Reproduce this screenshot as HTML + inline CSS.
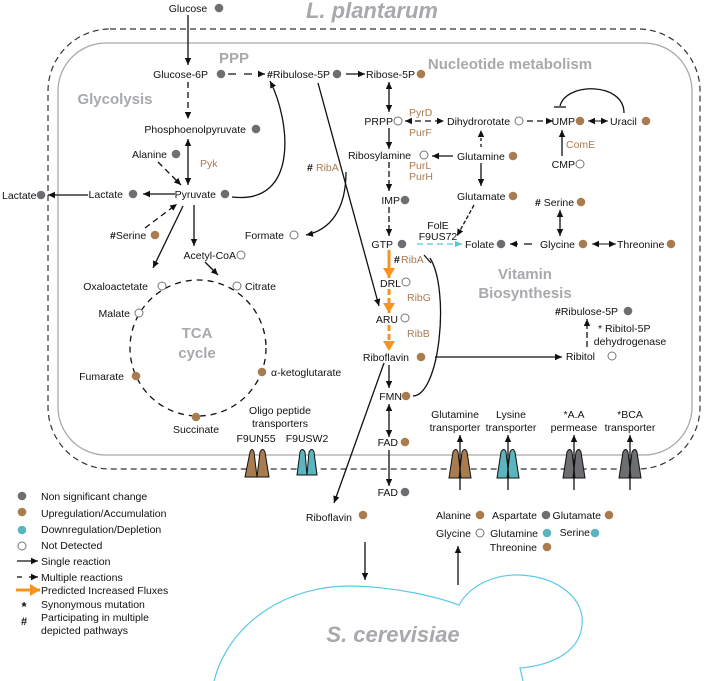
<!DOCTYPE html>
<html><head><meta charset="utf-8"><style>
html,body{margin:0;padding:0;background:#fff;}
svg{display:block;font-family:"Liberation Sans",Arial,sans-serif;}
.t{font-size:10.5px;fill:#111;}
.b{font-size:10.5px;fill:#a97c50;}
.h{font-size:15px;font-weight:bold;fill:#a7a9ac;}
</style></head><body>
<svg width="704" height="681" viewBox="0 0 704 681" xmlns="http://www.w3.org/2000/svg">
<defs>
<marker id="a" markerWidth="8" markerHeight="8" refX="7" refY="4" orient="auto" markerUnits="userSpaceOnUse"><path d="M0,0.8 L7,4 L0,7.2z" fill="#111"/></marker>
<marker id="as" markerWidth="8" markerHeight="8" refX="1" refY="4" orient="auto" markerUnits="userSpaceOnUse"><path d="M8,0.8 L1,4 L8,7.2z" fill="#111"/></marker>
<marker id="ac" markerWidth="8" markerHeight="8" refX="7" refY="4" orient="auto" markerUnits="userSpaceOnUse"><path d="M0,0.8 L7,4 L0,7.2z" fill="#5bc8d6"/></marker>
<marker id="ao" markerWidth="12" markerHeight="12" refX="10" refY="6" orient="auto" markerUnits="userSpaceOnUse"><path d="M0,0 L10,6 L0,12z" fill="#f7941d"/></marker>
</defs>
<rect x="48" y="29" width="652" height="440" rx="62" fill="none" stroke="#333" stroke-width="1.2" stroke-dasharray="6,4"/>
<rect x="58" y="43" width="634" height="412" rx="48" fill="none" stroke="#a7a9ac" stroke-width="1.3"/>
<text x="372" y="18" text-anchor="middle" font-size="22" font-weight="bold" font-style="italic" fill="#a7a9ac">L. plantarum</text>
<text x="234" y="63" text-anchor="middle" class="h">PPP</text>
<text x="115" y="104" text-anchor="middle" class="h">Glycolysis</text>
<text x="510" y="69" text-anchor="middle" class="h">Nucleotide metabolism</text>
<text x="197" y="338" text-anchor="middle" class="h">TCA</text>
<text x="197" y="358" text-anchor="middle" class="h">cycle</text>
<text x="525" y="279" text-anchor="middle" class="h">Vitamin</text>
<text x="525" y="298" text-anchor="middle" class="h">Biosynthesis</text>

<g fill="none" stroke="#111" stroke-width="1.3">
<line x1="188" y1="15" x2="188" y2="65" marker-end="url(#a)"/>
<line x1="188" y1="82" x2="188" y2="119" stroke-dasharray="6,4" marker-end="url(#a)"/>
<line x1="228" y1="74" x2="265" y2="74" stroke-dasharray="8,8" marker-end="url(#a)"/>
<line x1="346" y1="74" x2="365" y2="74" marker-end="url(#a)"/>
<line x1="188" y1="139" x2="188" y2="185" marker-start="url(#as)" marker-end="url(#a)"/>
<line x1="158" y1="162" x2="181" y2="185" stroke-dasharray="6,4" marker-end="url(#a)"/>
<line x1="145" y1="228" x2="177" y2="204" stroke-dasharray="6,4" marker-end="url(#a)"/>
<line x1="175" y1="194" x2="143" y2="194" marker-end="url(#a)"/>
<line x1="88" y1="195" x2="48" y2="195" marker-end="url(#a)"/>
<line x1="183" y1="206" x2="153" y2="268" marker-end="url(#a)"/>
<line x1="194" y1="205" x2="194" y2="246" marker-end="url(#a)"/>
<line x1="205" y1="262" x2="218" y2="275" marker-end="url(#a)"/>
<path d="M232,197 C 300,205 290,120 270,81" marker-end="url(#a)"/>
<path d="M346,172 C 346,210 330,230 306,235" marker-end="url(#a)"/>
<line x1="318" y1="83" x2="379" y2="306" marker-end="url(#a)"/>
<line x1="384" y1="363" x2="334" y2="503" marker-end="url(#a)"/>
<circle cx="198" cy="348" r="68" stroke-dasharray="6,5"/>
<line x1="389" y1="82" x2="389" y2="112" marker-start="url(#as)" marker-end="url(#a)"/>
<line x1="405" y1="121" x2="444" y2="121" stroke-dasharray="6,4" marker-start="url(#as)" marker-end="url(#a)"/>
<line x1="527" y1="121" x2="553" y2="121" stroke-dasharray="6,4" marker-end="url(#a)"/>
<line x1="588" y1="121" x2="608" y2="121" stroke-width="1" marker-start="url(#as)" marker-end="url(#a)"/>
<path d="M624,113 C 624,82 566,82 560,106"/>
<line x1="554" y1="107" x2="566" y2="107"/>
<line x1="562" y1="156" x2="562" y2="130" marker-end="url(#a)"/>
<line x1="389" y1="128" x2="389" y2="149" marker-end="url(#a)"/>
<line x1="389" y1="162" x2="389" y2="191" stroke-dasharray="6,3" marker-end="url(#a)"/>
<line x1="389" y1="207" x2="389" y2="236" stroke-dasharray="6,3" marker-end="url(#a)"/>
<line x1="453" y1="156" x2="432" y2="156" marker-end="url(#a)"/>
<line x1="481" y1="147" x2="481" y2="130" stroke-dasharray="3,3" marker-end="url(#a)"/>
<line x1="481" y1="163" x2="481" y2="186" marker-end="url(#a)"/>
<line x1="474" y1="205" x2="457" y2="236" stroke-dasharray="4,2" marker-end="url(#a)"/>
<line x1="532" y1="244" x2="510" y2="244" stroke-dasharray="8,6" marker-end="url(#a)"/>
<line x1="592" y1="244" x2="616" y2="244" stroke-width="1" marker-start="url(#as)" marker-end="url(#a)"/>
<line x1="560" y1="210" x2="560" y2="236" marker-start="url(#as)" marker-end="url(#a)"/>
<path d="M413,396 C 440,395 450,290 430,258"/>
<line x1="424" y1="255" x2="431" y2="263"/>
<line x1="435" y1="357" x2="562" y2="357" marker-end="url(#a)"/>
<line x1="587" y1="347" x2="587" y2="319" stroke-dasharray="6,3" marker-end="url(#a)"/>
<line x1="389" y1="365" x2="389" y2="388" marker-end="url(#a)"/>
<line x1="389" y1="404" x2="389" y2="437" marker-start="url(#as)" marker-end="url(#a)"/>
<line x1="389" y1="450" x2="389" y2="486" marker-end="url(#a)"/>
<line x1="365" y1="542" x2="365" y2="580" marker-end="url(#a)"/>
<line x1="458" y1="585" x2="458" y2="546" marker-end="url(#a)"/>
<line x1="17" y1="561" x2="38" y2="561" marker-end="url(#a)"/>
<line x1="17" y1="577" x2="22" y2="577"/><line x1="29" y1="577" x2="38" y2="577" marker-end="url(#a)"/>
</g>
<line x1="417" y1="244" x2="462" y2="244" stroke="#5bc8d6" stroke-width="1.2" stroke-dasharray="6,4" marker-end="url(#ac)"/>
<g stroke="#f7941d" stroke-width="3" fill="none">
<line x1="389" y1="250" x2="389" y2="278" marker-end="url(#ao)"/>
<line x1="389" y1="289" x2="389" y2="313" stroke-dasharray="6,3" marker-end="url(#ao)"/>
<line x1="389" y1="325" x2="389" y2="351" stroke-dasharray="6,3" marker-end="url(#ao)"/>
<line x1="16" y1="590" x2="40" y2="590" marker-end="url(#ao)"/>
</g>
<g stroke="#111" stroke-width="1">
<path d="M245,477 L250,452 Q252,447 254,452 L257,477Z M257,477 L260,452 Q263,447 265,452 L269,477Z" fill="#a97c50"/>
<path d="M297,475 L300,452 Q302,447 305,452 L307,475Z M307,475 L309,452 Q312,447 314,452 L317,475Z" fill="#5bb5be"/>
<path d="M449,478 L453,452 Q456,447 458,452 L461,478Z M459,478 L462,452 Q465,447 467,452 L471,478Z" fill="#a97c50"/>
<path d="M497,478 L501,452 Q504,447 506,452 L509,478Z M507,478 L510,452 Q513,447 515,452 L519,478Z" fill="#5bb5be"/>
<path d="M563,478 L567,452 Q570,447 572,452 L575,478Z M573,478 L576,452 Q579,447 581,452 L585,478Z" fill="#6d6e71"/>
<path d="M619,478 L623,452 Q626,447 628,452 L631,478Z M629,478 L632,452 Q635,447 637,452 L641,478Z" fill="#6d6e71"/>
</g>
<g fill="none" stroke="#111" stroke-width="1.3">
<line x1="460" y1="490" x2="460" y2="435" marker-end="url(#a)"/>
<line x1="508" y1="490" x2="508" y2="435" marker-end="url(#a)"/>
<line x1="574" y1="490" x2="574" y2="435" marker-end="url(#a)"/>
<line x1="630" y1="490" x2="630" y2="435" marker-end="url(#a)"/>
</g>
<path d="M214,681 C 230,620 290,585 352,586 C 400,587 440,598 459,605 C 470,585 495,574 520,575 C 560,577 585,600 582,625 C 580,650 555,665 520,668 L 523,681" fill="none" stroke="#5bc8e8" stroke-width="1.2"/>
<text x="393" y="642" text-anchor="middle" font-size="22" font-weight="bold" font-style="italic" fill="#a7a9ac">S. cerevisiae</text>

<g class="t">
<text x="188" y="12" text-anchor="middle" class="t">Glucose</text>
<text x="208" y="78" text-anchor="end" class="t">Glucose-6P</text>
<text x="267" y="78" class="t"><tspan font-weight="bold">#</tspan>Ribulose-5P</text>
<text x="366" y="78" class="t">Ribose-5P</text>
<text x="246" y="133" text-anchor="end" class="t">Phosphoenolpyruvate</text>
<text x="167" y="158" text-anchor="end" class="t">Alanine</text>
<text x="216" y="198" text-anchor="end" class="t">Pyruvate</text>
<text x="123" y="198" text-anchor="end" class="t">Lactate</text>
<text x="2" y="199" class="t">Lactate</text>
<text x="110" y="239" class="t"><tspan font-weight="bold">#</tspan>Serine</text>
<text x="236" y="259" text-anchor="end" class="t">Acetyl-CoA</text>
<text x="148" y="290" text-anchor="end" class="t">Oxaloactetate</text>
<text x="245" y="290" class="t">Citrate</text>
<text x="130" y="317" text-anchor="end" class="t">Malate</text>
<text x="124" y="380" text-anchor="end" class="t">Fumarate</text>
<text x="271" y="376" class="t">α-ketoglutarate</text>
<text x="196" y="433" text-anchor="middle" class="t">Succinate</text>
<text x="280" y="414" text-anchor="middle" class="t">Oligo peptide</text>
<text x="280" y="427" text-anchor="middle" class="t">transporters</text>
<text x="256" y="442" text-anchor="middle" class="t">F9UN55</text>
<text x="307" y="442" text-anchor="middle" class="t">F9USW2</text>
<text x="307" y="171" class="t" font-weight="bold">#</text>
<text x="284" y="239" text-anchor="end" class="t">Formate</text>
<text x="393" y="125" text-anchor="end" class="t">PRPP</text>
<text x="447" y="125" class="t">Dihydrorotate</text>
<text x="575" y="125" text-anchor="end" class="t">UMP</text>
<text x="610" y="125" class="t">Uracil</text>
<text x="575" y="168" text-anchor="end" class="t">CMP</text>
<text x="411" y="159" text-anchor="end" class="t">Ribosylamine</text>
<text x="457" y="160" class="t">Glutamine</text>
<text x="400" y="204" text-anchor="end" class="t">IMP</text>
<text x="457" y="200" class="t">Glutamate</text>
<text x="438" y="229" text-anchor="middle" class="t">FolE</text>
<text x="438" y="240" text-anchor="middle" class="t">F9US72</text>
<text x="393" y="248" text-anchor="end" class="t">GTP</text>
<text x="465" y="248" class="t">Folate</text>
<text x="540" y="248" class="t">Glycine</text>
<text x="617" y="248" class="t">Threonine</text>
<text x="535" y="206" class="t"><tspan font-weight="bold">#</tspan> Serine</text>
<text x="394" y="263" class="t" font-weight="bold">#</text>
<text x="401" y="287" text-anchor="end" class="t">DRL</text>
<text x="398" y="323" text-anchor="end" class="t">ARU</text>
<text x="409" y="361" text-anchor="end" class="t">Riboflavin</text>
<text x="595" y="360" text-anchor="end" class="t">Ribitol</text>
<text x="555" y="315" class="t"><tspan font-weight="bold">#</tspan>Ribulose-5P</text>
<text x="598" y="332" class="t">* Ribitol-5P</text>
<text x="630" y="345" text-anchor="middle" class="t">dehydrogenase</text>
<text x="402" y="400" text-anchor="end" class="t">FMN</text>
<text x="398" y="446" text-anchor="end" class="t">FAD</text>
<text x="398" y="496" text-anchor="end" class="t">FAD</text>
<text x="455" y="418" text-anchor="middle" class="t">Glutamine</text>
<text x="455" y="431" text-anchor="middle" class="t">transporter</text>
<text x="511" y="418" text-anchor="middle" class="t">Lysine</text>
<text x="511" y="431" text-anchor="middle" class="t">transporter</text>
<text x="574" y="418" text-anchor="middle" class="t">*A.A</text>
<text x="574" y="431" text-anchor="middle" class="t">permease</text>
<text x="630" y="418" text-anchor="middle" class="t">*BCA</text>
<text x="630" y="431" text-anchor="middle" class="t">transporter</text>
<text x="352" y="521" text-anchor="end" class="t">Riboflavin</text>
<text x="471" y="519" text-anchor="end" class="t">Alanine</text>
<text x="537" y="519" text-anchor="end" class="t">Aspartate</text>
<text x="601" y="519" text-anchor="end" class="t">Glutamate</text>
<text x="471" y="537" text-anchor="end" class="t">Glycine</text>
<text x="538" y="537" text-anchor="end" class="t">Glutamine</text>
<text x="590" y="536" text-anchor="end" class="t">Serine</text>
<text x="537" y="551" text-anchor="end" class="t">Threonine</text>
<text x="41" y="500" class="t">Non significant change</text>
<text x="41" y="517" class="t">Upregulation/Accumulation</text>
<text x="41" y="533" class="t">Downregulation/Depletion</text>
<text x="41" y="549" class="t">Not Detected</text>
<text x="41" y="565" class="t">Single reaction</text>
<text x="41" y="581" class="t">Multiple reactions</text>
<text x="41" y="594" class="t">Predicted Increased Fluxes</text>
<text x="41" y="608" class="t">Synonymous mutation</text>
<text x="41" y="621" class="t">Participating in multiple</text>
<text x="41" y="634" class="t">depicted pathways</text>
<text x="24" y="611" text-anchor="middle" font-size="13" font-weight="bold" fill="#111">*</text>
<text x="24" y="625" text-anchor="middle" font-size="11" font-weight="bold" fill="#111">#</text>
</g>
<g class="b">
<text x="200" y="167" class="b">Pyk</text>
<text x="316" y="171" class="b">RibA</text>
<text x="409" y="116" class="b">PyrD</text>
<text x="409" y="136" class="b">PurF</text>
<text x="409" y="169" class="b">PurL</text>
<text x="409" y="180" class="b">PurH</text>
<text x="566" y="148" class="b">ComE</text>
<text x="401" y="263" class="b">RibA</text>
<text x="407" y="301" class="b">RibG</text>
<text x="407" y="337" class="b">RibB</text>
</g>
<g stroke="none" fill="#6d6e71">
<circle cx="219" cy="8" r="4.3"/><circle cx="221" cy="74" r="4.3"/><circle cx="337" cy="74" r="4.3"/>
<circle cx="256" cy="129" r="4.3"/><circle cx="176" cy="154" r="4.3"/><circle cx="225" cy="194" r="4.3"/>
<circle cx="133" cy="194" r="4.3"/><circle cx="41" cy="195" r="4.3"/><circle cx="405" cy="200" r="4.3"/>
<circle cx="402" cy="244" r="4.3"/><circle cx="501" cy="244" r="4.3"/><circle cx="628" cy="311" r="4.3"/>
<circle cx="405" cy="492" r="4.3"/><circle cx="546" cy="515" r="4.3"/><circle cx="22" cy="496" r="4.3"/>
</g>
<g stroke="none" fill="#a97c50">
<circle cx="421" cy="74" r="4.3"/><circle cx="155" cy="235" r="4.3"/><circle cx="136" cy="376" r="4.3"/>
<circle cx="262" cy="372" r="4.3"/><circle cx="196" cy="417" r="4.3"/><circle cx="580" cy="121" r="4.3"/>
<circle cx="646" cy="121" r="4.3"/><circle cx="513" cy="156" r="4.3"/><circle cx="513" cy="196" r="4.3"/>
<circle cx="581" cy="202" r="4.3"/><circle cx="583" cy="244" r="4.3"/><circle cx="671" cy="244" r="4.3"/>
<circle cx="421" cy="357" r="4.3"/><circle cx="406" cy="396" r="4.3"/><circle cx="405" cy="442" r="4.3"/>
<circle cx="363" cy="515" r="4.3"/><circle cx="480" cy="515" r="4.3"/><circle cx="609" cy="515" r="4.3"/>
<circle cx="547" cy="547" r="4.3"/><circle cx="22" cy="512" r="4.3"/>
</g>
<g stroke="none" fill="#5bb5be">
<circle cx="547" cy="533" r="4.3"/><circle cx="595" cy="533" r="4.3"/><circle cx="22" cy="530" r="4.3"/>
</g>
<g fill="#fff" stroke="#777" stroke-width="1">
<circle cx="241" cy="255" r="4"/><circle cx="162" cy="286" r="4"/><circle cx="237" cy="286" r="4"/>
<circle cx="139" cy="313" r="4"/><circle cx="294" cy="235" r="4"/><circle cx="398" cy="121" r="4"/>
<circle cx="519" cy="121" r="4"/><circle cx="580" cy="164" r="4"/><circle cx="424" cy="155" r="4"/>
<circle cx="406" cy="282" r="4"/><circle cx="405" cy="318" r="4"/><circle cx="612" cy="356" r="4"/>
<circle cx="480" cy="533" r="4"/><circle cx="22" cy="546" r="4"/>
</g>
</svg>
</body></html>
